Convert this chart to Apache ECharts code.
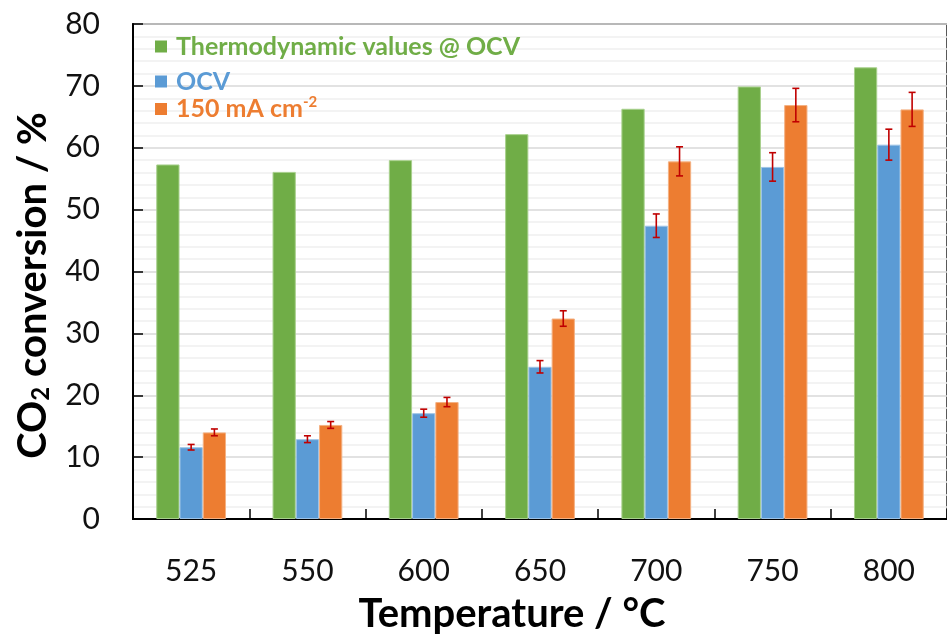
<!DOCTYPE html>
<html>
<head>
<meta charset="utf-8">
<script src="https://cdn.jsdelivr.net/npm/echarts@6/dist/echarts.min.js"></script>
<style>
html,body{margin:0;padding:0;background:#fff;}
#chart{width:947px;height:639px;}
</style>
</head>
<body>
<div id="chart"></div>
<script>
const categories = ['525', '550', '600', '650', '700', '750', '800'];
const thermoValues = [57.3, 56.1, 58.0, 62.2, 66.3, 69.9, 73.0];
const ocvValues = [11.6, 12.9, 17.1, 24.6, 47.4, 56.9, 60.5];
const ma150Values = [14.0, 15.2, 18.9, 32.4, 57.8, 66.9, 66.2];
const ocvErrors = [0.45, 0.55, 0.65, 1.0, 1.9, 2.3, 2.5];
const ma150Errors = [0.55, 0.55, 0.75, 1.25, 2.35, 2.7, 2.75];
const yTicks = [0, 10, 20, 30, 40, 50, 60, 70, 80];

const FONT = 'Lato';
const GREEN = '#70AD47', BLUE = '#5B9BD5', ORANGE = '#ED7D31', ERR = '#C00000';

function errData(vals, errs) {
  return vals.map((v, i) => [i, v - errs[i], v + errs[i]]);
}
function errRender(offset) {
  return function (params, api) {
    const i = api.value(0);
    const lo = api.coord([i, api.value(1)]);
    const hi = api.coord([i, api.value(2)]);
    const band = api.size([1, 0])[0];
    const x = lo[0] + offset * band * 0.2;
    const w = 3.5;
    const st = { stroke: ERR, lineWidth: 1.6 };
    return {
      type: 'group',
      children: [
        { type: 'line', shape: { x1: x, y1: lo[1], x2: x, y2: hi[1] }, style: st },
        { type: 'line', shape: { x1: x - w, y1: lo[1], x2: x + w, y2: lo[1] }, style: st },
        { type: 'line', shape: { x1: x - w, y1: hi[1], x2: x + w, y2: hi[1] }, style: st }
      ]
    };
  };
}

const legendBase = {
  orient: 'vertical', left: 150, icon: 'rect', itemWidth: 12, itemHeight: 12, itemGap: 0,
  itemStyle: { borderWidth: 0 },
  textStyle: { fontFamily: FONT, fontWeight: 'bold', fontSize: 25, padding: [0, 0, 0, 4] },
  selectedMode: false
};

const chart = echarts.init(document.getElementById('chart'), null, { renderer: 'canvas' });
chart.setOption({
  animation: false,
  backgroundColor: '#fff',
  grid: { left: 133, top: 24, bottom: 115, width: 822, show: true, borderColor: '#595959', borderWidth: 2, backgroundColor: 'transparent' },
  legend: [
    Object.assign({}, legendBase, { top: 29, data: [{ name: 'Thermodynamic values @ OCV', textStyle: { color: GREEN } }] }),
    Object.assign({}, legendBase, { top: 64, data: [{ name: 'OCV', textStyle: { color: BLUE } }] }),
    Object.assign({}, legendBase, {
      top: 90,
      data: [{ name: '150 mA cm-2', textStyle: { color: ORANGE } }],
      formatter: function () { return '150 mA cm{sup|-2}'; },
      textStyle: {
        fontFamily: FONT, fontWeight: 'bold', fontSize: 25, color: ORANGE, padding: [0, 0, 0, 4],
        rich: { sup: { fontFamily: FONT, fontWeight: 'bold', fontSize: 15, color: ORANGE, verticalAlign: 'top', padding: [0, 0, 13, 0] } }
      }
    })
  ],
  xAxis: {
    type: 'category',
    data: categories,
    boundaryGap: true,
    axisLine: { lineStyle: { color: '#000', width: 2 } },
    axisTick: { show: true, inside: true, length: 10, alignWithLabel: false, lineStyle: { color: '#000', width: 1.5 } },
    axisLabel: { fontFamily: FONT, fontSize: 30, color: '#111', margin: 37 },
    name: 'Temperature / °C',
    nameLocation: 'middle',
    nameGap: 75,
    nameTextStyle: { fontFamily: FONT, fontWeight: 'bold', fontSize: 40, color: '#000', padding: [0, 56, 0, 0] }
  },
  yAxis: {
    type: 'value',
    min: yTicks[0], max: yTicks[yTicks.length - 1], interval: 10,
    splitNumber: 8,
    axisLine: { show: true, lineStyle: { color: '#000', width: 2 } },
    axisTick: { show: true, inside: true, length: 10, lineStyle: { color: '#000', width: 1.5 } },
    axisLabel: { fontFamily: FONT, fontSize: 30, color: '#111', margin: 33 },
    splitLine: { show: true, lineStyle: { color: '#d9d9d9', width: 1.5 } },
    minorTick: { show: false, splitNumber: 5 },
    minorSplitLine: { show: true, lineStyle: { color: '#f0f0f0', width: 1.5 } },
    name: 'CO{sub|2} conversion / %',
    nameLocation: 'middle',
    nameGap: 80,
    nameRotate: 90,
    nameTextStyle: {
      fontFamily: FONT, fontWeight: 'bold', fontSize: 40, color: '#000', padding: [0, 28, 0, 0],
      rich: { sub: { fontFamily: FONT, fontWeight: 'bold', fontSize: 24, color: '#000', verticalAlign: 'bottom', padding: [15, 0, 0, 0] } }
    }
  },
  series: [
    { name: 'Thermodynamic values @ OCV', type: 'bar', data: thermoValues, barWidth: '20%', barGap: '0%',
      itemStyle: { color: GREEN, borderColor: '#a8d08d', borderWidth: 1 } },
    { name: 'OCV', type: 'bar', data: ocvValues, barWidth: '20%', barGap: '0%',
      itemStyle: { color: BLUE, borderColor: '#9dc3e6', borderWidth: 1 } },
    { name: '150 mA cm-2', type: 'bar', data: ma150Values, barWidth: '20%', barGap: '0%',
      itemStyle: { color: ORANGE, borderColor: '#f4b183', borderWidth: 1 } },
    { type: 'custom', renderItem: errRender(0), data: errData(ocvValues, ocvErrors), z: 10, silent: true },
    { type: 'custom', renderItem: errRender(1), data: errData(ma150Values, ma150Errors), z: 10, silent: true }
  ]
});
</script>
</body>
</html>
